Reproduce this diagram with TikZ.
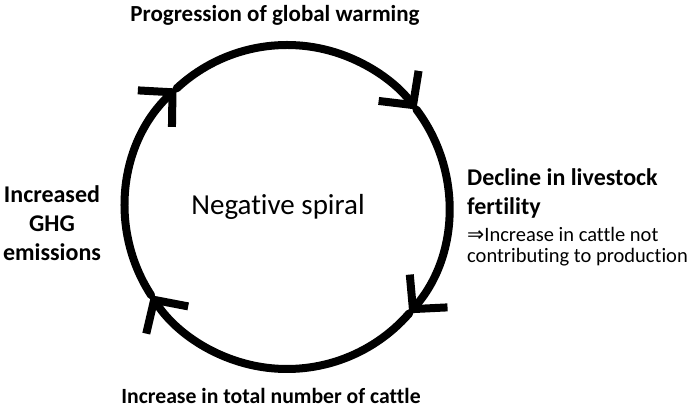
\documentclass[tikz,border=0pt]{standalone}
\usepackage{fontspec}
\setmainfont{Carlito}[Ligatures={NoCommon}]
\newfontfamily\arrowfont{DejaVu Sans}
\usetikzlibrary{arrows.meta}

\begin{document}
\begin{tikzpicture}[x=1pt,y=1pt,>={Straight Barb[length=24pt,width=50pt,sharp]},line cap=round,line join=round,
  cyclelabel/.style={font=\bfseries\fontsize{24}{29}\selectfont,inner sep=0pt}]
\useasboundingbox (0,0) rectangle (692,411);
\coordinate (c) at (287,204);
% the four arcs of the cycle, clockwise
\draw[->,line width=8pt] (c) ++(213:162) arc[start angle=213,end angle=133,radius=162];
\draw[->,line width=8pt] (c) ++(133:162) arc[start angle=133,end angle=37,radius=162];
\draw[->,line width=8pt] (c) ++(37:162) arc[start angle=37,end angle=-41,radius=162];
\draw[->,line width=8pt] (c) ++(-41:162) arc[start angle=-41,end angle=-147,radius=162];
\node[font=\fontsize{29}{35}\selectfont] (spiral) at (278,204) {Negative spiral};
\node[cyclelabel,font=\bfseries\fontsize{23}{29}\selectfont,anchor=base] (warming) at (275,389) {Progression of global warming};
\node[cyclelabel,align=left,anchor=base west] (fertility) at (467,196) {Decline in livestock\\fertility};
\node[font=\fontsize{20.5}{21}\selectfont,align=left,anchor=base west,inner sep=0pt] (production) at (467,148) {{\arrowfont⇒}Increase in cattle not\\contributing to production};
\node[cyclelabel,font=\bfseries\fontsize{21.7}{29}\selectfont,anchor=base] (cattle) at (271,7) {Increase in total number of cattle};
\node[cyclelabel,align=center,anchor=base] (ghg) at (52,150) {Increased\\GHG\\emissions};
\end{tikzpicture}
\end{document}
